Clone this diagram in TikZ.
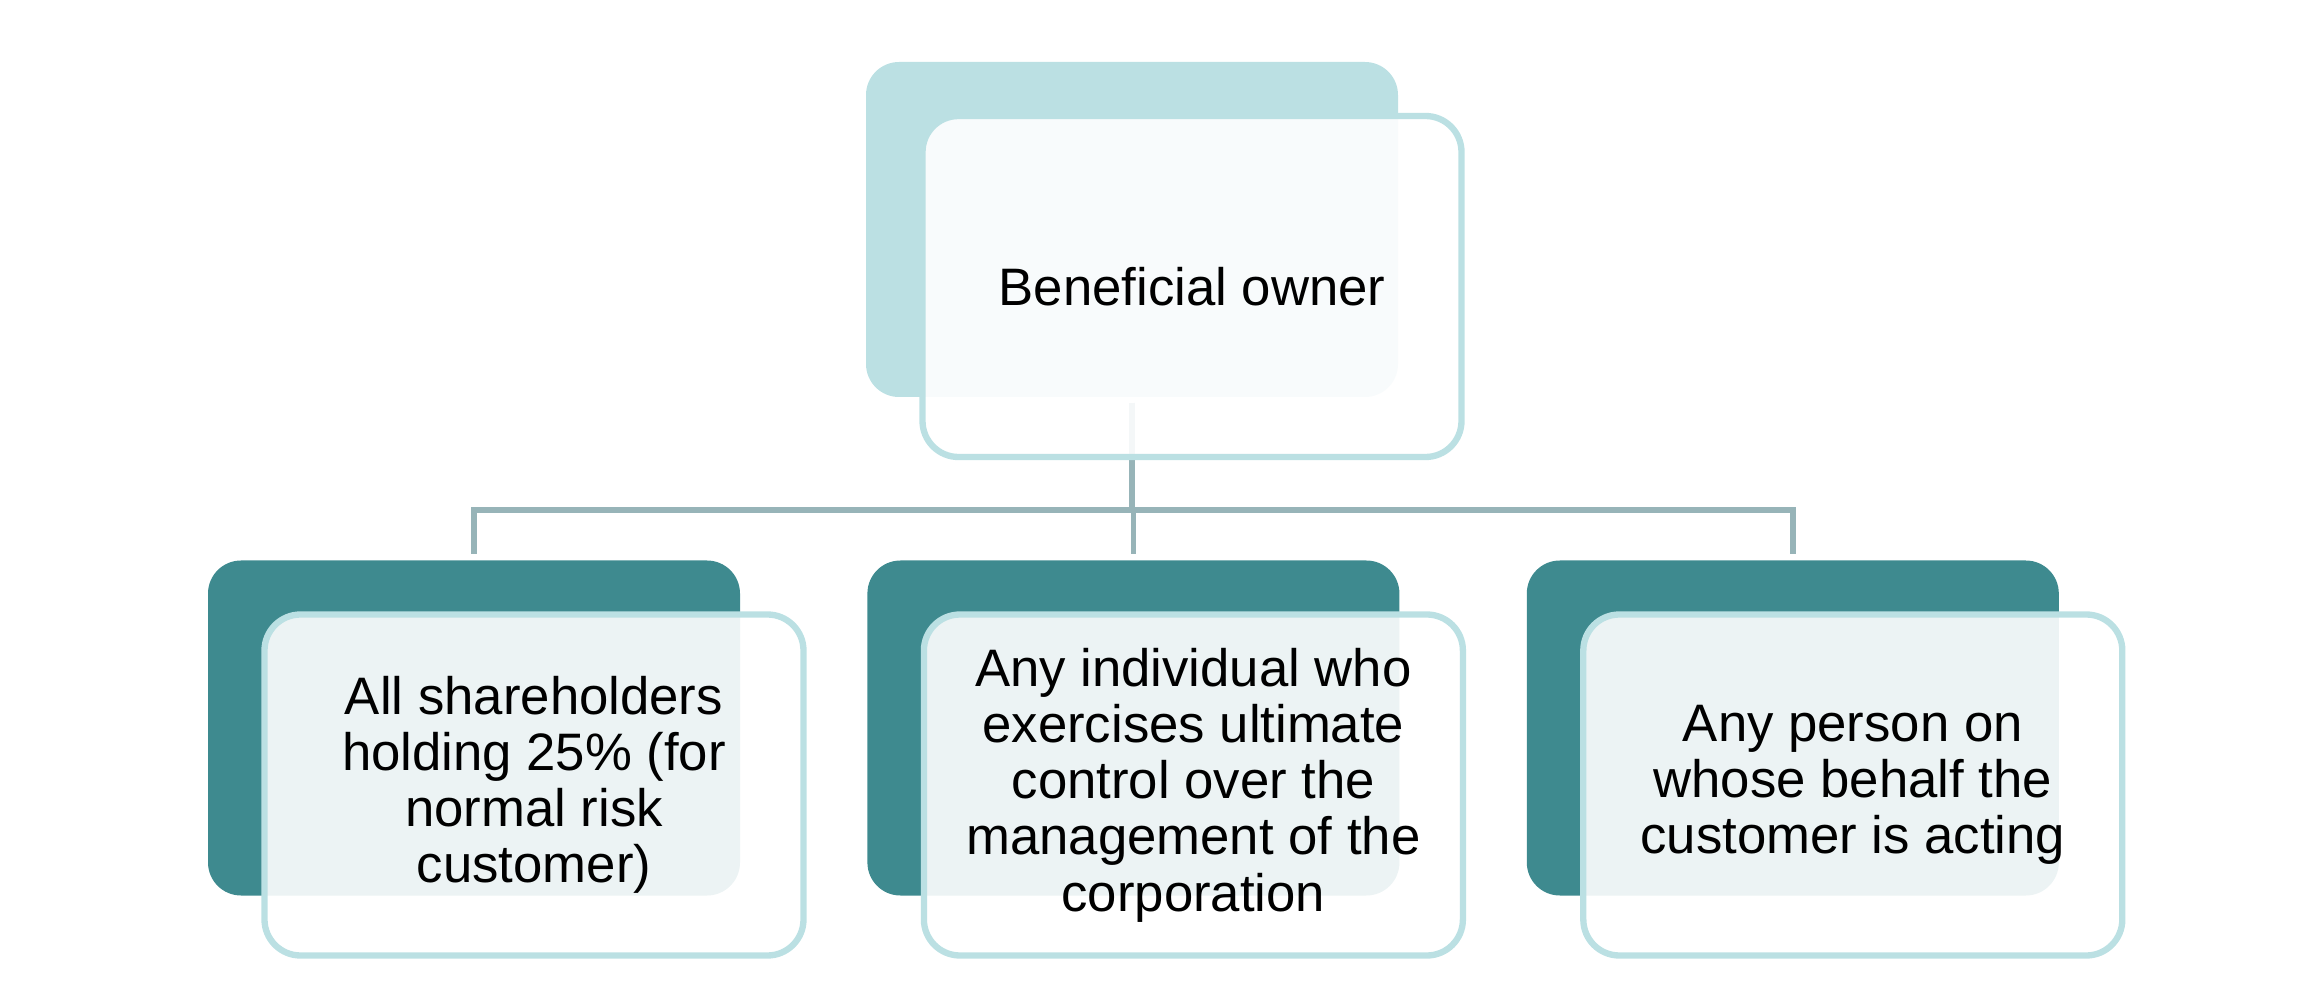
\documentclass[tikz,border=0pt]{standalone}
\usepackage{fontspec}
\setmainfont{Liberation Sans}
\usepackage{tikz}
\usetikzlibrary{positioning}

\definecolor{paleteal}{HTML}{BBE0E3}
\definecolor{deepteal}{HTML}{3E8A8F}
\definecolor{linkgray}{HTML}{97B4B8}

\begin{document}
\begin{tikzpicture}[
  node distance=1.26cm,
  every node/.style={font=\fontsize{15}{16}\selectfont},
  ownerback/.style={rectangle, rounded corners=0.33cm, minimum width=5.32cm, minimum height=3.35cm, inner sep=0pt, fill=paleteal},
  typeback/.style={rectangle, rounded corners=0.33cm, minimum width=5.32cm, minimum height=3.35cm, inner sep=0pt, fill=deepteal},
  card/.style={rectangle, rounded corners=0.36cm, minimum width=5.39cm, minimum height=3.41cm, inner sep=0pt, draw=paleteal, line width=1.8pt, fill=white, fill opacity=0.9, text opacity=1, align=center, xshift=0.6cm, yshift=-0.57cm},
  link/.style={draw=linkgray, line width=1.6pt, shorten <=0.05cm, shorten >=0.06cm}
  ]

\useasboundingbox (0,0) rectangle (23.08,-10.02);

% back boxes
\node[ownerback] (ownerb) at (11.32,-2.295) {};
\node[typeback] (shareb) at (4.74,-7.28) {};
\node[typeback, right=of shareb] (controlb) {};
\node[typeback, right=of controlb] (behalfb) {};

% connectors
\draw[link] (ownerb.south) -- ++(0,-1.12) -| (shareb.north);
\draw[link] (ownerb.south) -- ++(0,-1.12) -| (controlb.north);
\draw[link] (ownerb.south) -- ++(0,-1.12) -| (behalfb.north);

% front cards
\node[card] (owner) at (ownerb) {Beneficial owner};
\node[card] (share) at (shareb) {All shareholders\\holding 25\% (for\\normal risk\\customer)};
\node[card] (control) at (controlb) {Any individual who\\exercises ultimate\\control over the\\management of the\\corporation};
\node[card] (behalf) at (behalfb) {Any person on\\whose behalf the\\customer is acting};

\end{tikzpicture}
\end{document}
